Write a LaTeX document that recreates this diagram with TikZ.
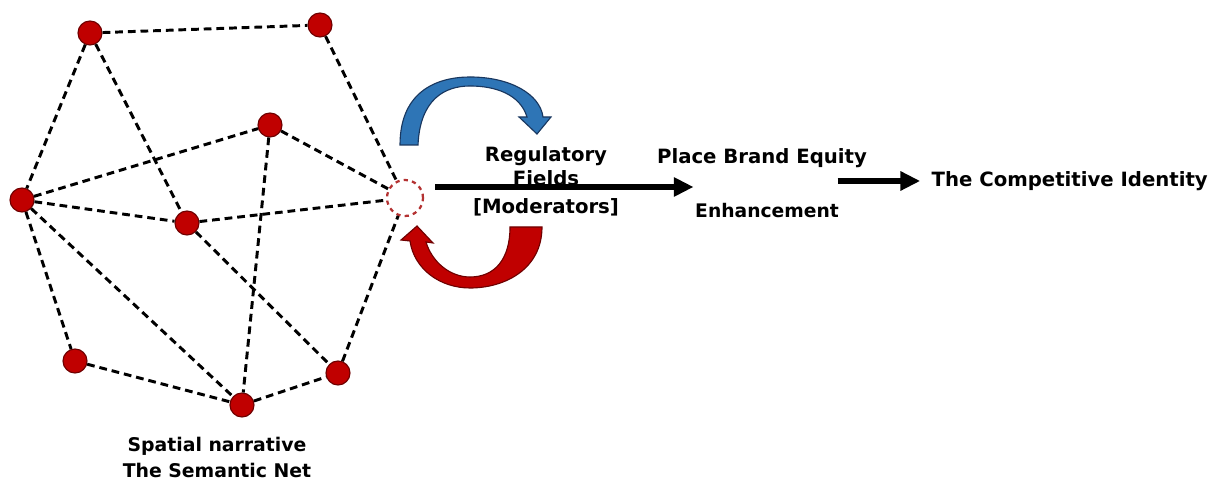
\documentclass[tikz,border=0pt]{standalone}
\usepackage{fontspec}
\setmainfont{DejaVu Sans}
\usetikzlibrary{positioning, arrows.meta}

\definecolor{dotred}{RGB}{192,0,0}
\definecolor{dotedge}{RGB}{110,0,0}
\definecolor{hubred}{RGB}{180,50,50}
\definecolor{loopblue}{RGB}{46,117,182}
\definecolor{loopnavy}{RGB}{25,55,95}

\begin{document}
\begin{tikzpicture}[x=0.025cm, y=0.025cm,
    dot/.style={circle, draw=dotedge, fill=dotred, line width=0.8pt, minimum size=0.6cm, inner sep=0pt},
    link/.style={line width=2.1pt, dash pattern=on 5.5pt off 3.5pt},
    txt/.style={font=\bfseries\fontsize{14}{15}\selectfont, inner sep=1pt},
    flow/.style={-{Triangle[length=14pt, width=13pt]}, line width=3.6pt}]
    \useasboundingbox (0,0) rectangle (1220,484);

    % Semantic net
    \node[dot] (a) at (90,451) {};
    \node[dot] (b) at (320,459) {};
    \node[dot] (c) at (270,359) {};
    \node[dot] (d) at (22,284) {};
    \node[dot] (e) at (187,261) {};
    \node[dot] (g) at (75,123) {};
    \node[dot] (h) at (242,79) {};
    \node[dot] (i) at (338,111) {};
    \node[circle, draw=hubred, dashed, line width=1.6pt, fill=white, minimum size=0.9cm] (hub) at (405,286) {};

    \draw[link] (a) -- (b);
    \draw[link] (a) -- (d);
    \draw[link] (a) -- (e);
    \draw[link] (b) -- (hub);
    \draw[link] (d) -- (c);
    \draw[link] (c) -- (hub);
    \draw[link] (c) -- (h);
    \draw[link] (d) -- (e);
    \draw[link] (e) -- (hub);
    \draw[link] (d) -- (g);
    \draw[link] (d) -- (h);
    \draw[link] (e) -- (i);
    \draw[link] (g) -- (h);
    \draw[link] (h) -- (i);
    \draw[link] (i) -- (hub);

    % Feedback loops
    \draw[draw=loopnavy, fill=loopblue, line width=0.8pt]
        (400,339) .. controls (400,395) and (440,407) .. (470,407)
        .. controls (510,407) and (540,390) .. (543,367)
        -- (551,367) -- (537,350) -- (519,367) -- (527,367)
        .. controls (520,390) and (495,398) .. (470,398)
        .. controls (445,398) and (420,385) .. (418,339) -- cycle;
    \draw[draw=dotedge, fill=dotred, line width=0.8pt]
        (542,257) .. controls (542,215) and (505,196) .. (470,196)
        .. controls (440,196) and (414,215) .. (410,243)
        -- (401,244) -- (417,258) -- (433,241) -- (426,242)
        .. controls (432,222) and (450,207) .. (470,207)
        .. controls (495,207) and (510,225) .. (510,257) -- cycle;

    % Labels
    \node[txt, align=center, font=\bfseries\fontsize{14}{17}\selectfont] (reg) at (546,318) {Regulatory\\Fields};
    \node[txt] (mod) at (546,277) {[Moderators]};
    \node[txt] (pbe) at (762,326) {Place Brand Equity};
    \node[txt, font=\bfseries\fontsize{13.3}{15}\selectfont] (enh) at (767,273) {Enhancement};
    \node[txt, anchor=west] (ident) at (930,303) {The Competitive Identity};
    \node[txt, align=center, font=\bfseries\fontsize{13.4}{18.5}\selectfont] (net) at (217,27) {Spatial narrative\\The Semantic Net};

    % Flow arrows
    \coordinate (start) at (435,297);
    \draw[flow] (start) -- (start -| enh.west);
    \draw[flow, shorten >=7pt] ([xshift=-2pt]enh.east |- ident.west) -- (ident.west);
\end{tikzpicture}
\end{document}
